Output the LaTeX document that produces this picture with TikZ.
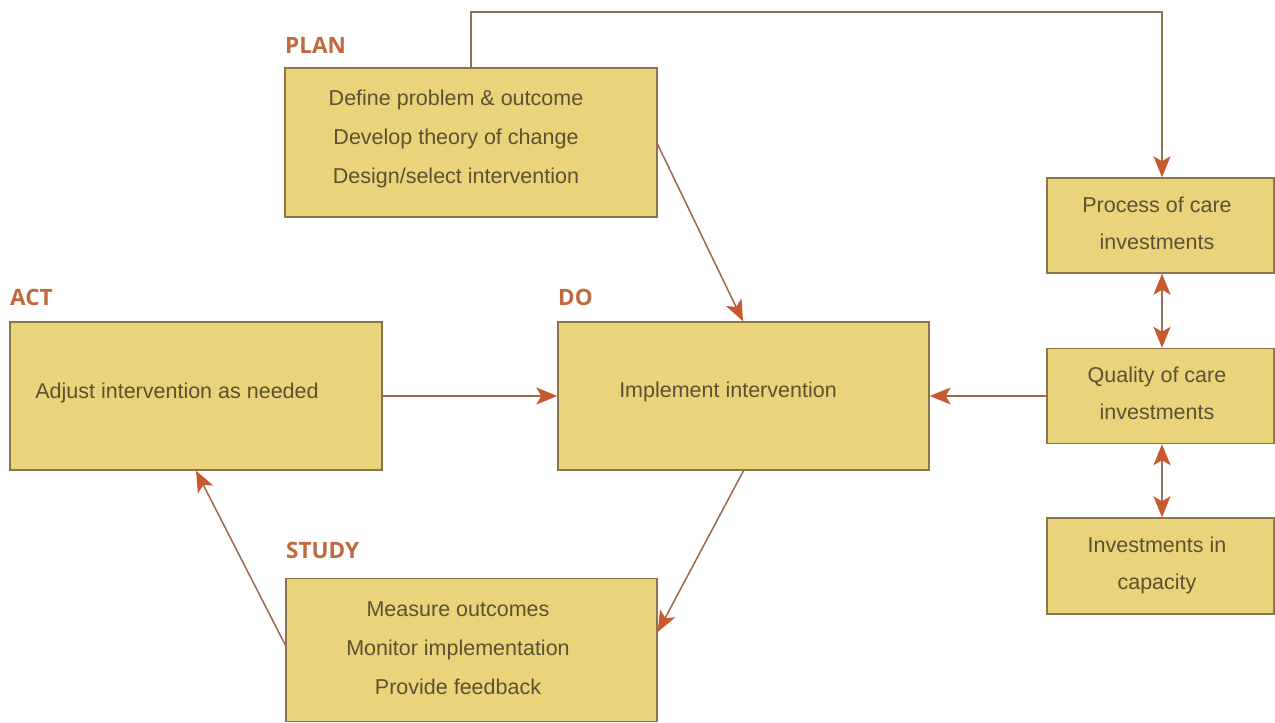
\documentclass[tikz,border=0pt]{standalone}
\usepackage{fontspec}
\setmainfont{Liberation Sans}
\newfontfamily\labfont{Open Sans}
\usetikzlibrary{arrows.meta}
\definecolor{boxfill}{HTML}{E9D47C}
\definecolor{boxdraw}{HTML}{8E744A}
\definecolor{linec}{HTML}{A0674A}
\definecolor{headc}{HTML}{C9582E}
\definecolor{txtc}{HTML}{5A5232}
\definecolor{labc}{HTML}{C0683E}
\tikzset{
  box/.style={draw=boxdraw, fill=boxfill, line width=1.4pt, inner sep=0pt},
  txt/.style={text=txtc, font=\fontsize{21.5}{39}\selectfont, align=center, inner sep=0pt},
  rtxt/.style={text=txtc, font=\fontsize{21.5}{37}\selectfont, align=center, inner sep=0pt},
  lab/.style={text=labc, font=\labfont\bfseries\fontsize{22.5}{26}\selectfont, anchor=base west, inner sep=0pt},
  conn/.style={draw=linec, line width=1.5pt, -{Stealth[length=21pt,width=17pt,inset=5pt,color=headc]}},
  dconn/.style={draw=linec!60!gray, line width=1.5pt, {Stealth[length=21pt,width=17pt,inset=5pt,color=headc]}-{Stealth[length=21pt,width=17pt,inset=5pt,color=headc]}},
  topline/.style={draw=boxdraw, line width=1.3pt, -{Stealth[length=21pt,width=17pt,inset=5pt,color=headc]}}
}
\begin{document}
\begin{tikzpicture}[x=1pt,y=-1pt]
\useasboundingbox[fill=white] (0,0) rectangle (1275,723);
% boxes
\node[box, minimum width=372pt, minimum height=149pt] (plan) at (471,142.5) {};
\node[box, minimum width=372pt, minimum height=148pt] (act) at (196,396) {};
\node[box, minimum width=371pt, minimum height=148pt] (do) at (743.5,396) {};
\node[box, minimum width=371pt, minimum height=143pt] (study) at (471.5,650) {};
\node[box, minimum width=227pt, minimum height=95pt] (proc) at (1160.5,225.5) {};
\node[box, minimum width=227pt, minimum height=95pt] (qual) at (1160.5,396) {};
\node[box, minimum width=227pt, minimum height=96pt] (inv) at (1160.5,566) {};
% section labels
\node[lab] (lplan) at (285,53) {PLAN};
\node[lab] (lact) at (10,305) {ACT};
\node[lab] (ldo) at (558,305) {DO};
\node[lab] (lstudy) at (286,558) {STUDY};
% texts
\node[txt] (tplan) at (456,139) {Define problem \& outcome\\Develop theory of change\\Design/select intervention};
\node[txt] (tact) at (177,393) {Adjust intervention as needed};
\node[txt] (tdo) at (728,392) {Implement intervention};
\node[txt] (tstudy) at (458,648) {Measure outcomes\\Monitor implementation\\Provide feedback};
\node[rtxt] (tproc) at (1157,223) {Process of care\\investments};
\node[rtxt] (tqual) at (1157,393) {Quality of care\\investments};
\node[rtxt] (tinv) at (1157,565) {Investments in\\capacity};
% connectors
\coordinate (c1) at (471,12);
\coordinate (c2) at (1162,12);
\draw[topline] (plan.north -| c1) -- (c1) -- (c2) -- (proc.north -| c2);
\draw[conn] ([yshift=-2pt]plan.east) -- ([xshift=-0.5pt]do.north);
\draw[conn] (act.east) -- (do.west);
\draw[conn] (qual.west) -- (do.east);
\draw[conn] (do.south) -- ([yshift=18pt]study.east);
\draw[conn] ([yshift=5pt]study.west) -- (act.south);
\draw[dconn] ([xshift=1.5pt]proc.south) -- ([xshift=1.5pt]qual.north);
\draw[dconn] ([xshift=1.5pt]qual.south) -- ([xshift=1.5pt]inv.north);
\end{tikzpicture}
\end{document}
